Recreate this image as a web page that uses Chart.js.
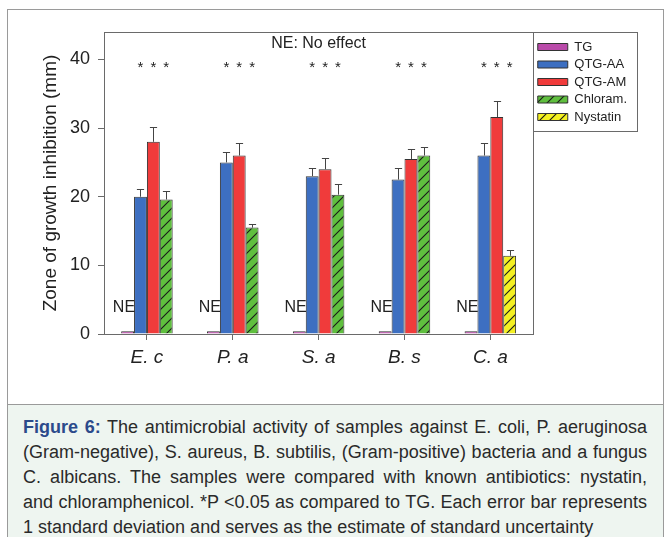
<!DOCTYPE html>
<html>
<head>
<meta charset="utf-8">
<script src="https://cdn.jsdelivr.net/npm/chart.js@4/dist/chart.umd.min.js"></script>
<style>
  body { margin: 0; width: 667px; height: 537px; overflow: hidden; background: #fff; font-family: Arial, "Liberation Sans", sans-serif; }
  .frame { position: absolute; left: 7px; top: 9px; width: 657px; height: 540px; border: 1px solid #9a9a9a; box-sizing: border-box; }
  .caption { position: absolute; left: 8px; top: 404px; width: 655px; height: 140px; background: #eef5f0; border-top: 1px solid #9a9a9a; box-sizing: border-box; padding: 10px 16px 0 15px; font-size: 18px; line-height: 25px; color: #2a2a2a; }
  .caption div { white-space: nowrap; text-align: justify; text-align-last: justify; }
  .caption div.last { text-align-last: left; }
  .caption b { color: #2b4a8b; }
  #chart { position: absolute; left: 0; top: 0; }
</style>
</head>
<body>
<div class="frame"></div>
<div class="caption">
  <div><b>Figure 6:</b> The antimicrobial activity of samples against E. coli, P. aeruginosa</div>
  <div>(Gram-negative), S. aureus, B. subtilis, (Gram-positive) bacteria and a fungus</div>
  <div>C. albicans. The samples were compared with known antibiotics: nystatin,</div>
  <div>and chloramphenicol. *P &lt;0.05 as compared to TG. Each error bar represents</div>
  <div class="last">1 standard deviation and serves as the estimate of standard uncertainty</div>
</div>
<canvas id="chart" width="667" height="400"></canvas>
<script>
// Categories and values
const categories = ['E. c', 'P. a', 'S. a', 'B. s', 'C. a']
const tgValues = [0.4, 0.4, 0.4, 0.4, 0.4]
const aaValues = [20, 25, 23, 22.5, 26]
const aaErrors = [1.1, 1.5, 1.2, 1.7, 1.9]
const amValues = [28, 26, 24, 25.5, 31.6]
const amErrors = [2.1, 1.9, 1.6, 1.5, 2.3]
const chloramValues = [19.6, 15.5, 20.3, 26.0, null]
const chloramErrors = [1.2, 0.5, 1.6, 1.2, null]
const nystatinValues = [null, null, null, null, 11.4]
const nystatinErrors = [null, null, null, null, 0.9]
const yTicks = [0, 10, 20, 30, 40]
const yMax = 44
// where the star and "NE" annotations sit, in axis units
const starLevel = 39.2
const neLevel = 3.9

Chart.defaults.font.family = 'Arial, "Liberation Sans", sans-serif'
Chart.defaults.color = '#222'

// hatched fill for the antibiotic bars
function hatch(color) {
  let c = document.createElement('canvas')
  c.width = 10
  c.height = 10
  let g = c.getContext('2d')
  g.fillStyle = color
  g.fillRect(0, 0, 10, 10)
  g.strokeStyle = '#1a1a1a'
  g.lineWidth = 1.1
  g.beginPath()
  g.moveTo(0, 10); g.lineTo(10, 0)
  g.moveTo(-5, 5); g.lineTo(5, -5)
  g.moveTo(5, 15); g.lineTo(15, 5)
  g.stroke()
  return g.createPattern(c, 'repeat')
}

// error bars, stars, NE labels and the boxes round plot and legend
const decor = {
  id: 'decor',
  afterDatasetsDraw(chart) {
    let ctx = chart.ctx
    let y = chart.scales.y
    ctx.save()
    ctx.strokeStyle = '#444'
    ctx.lineWidth = 1
    chart.data.datasets.forEach((ds, d) => {
      if (!ds.errors) return
      let meta = chart.getDatasetMeta(d)
      ds.data.forEach((v, i) => {
        if (v === null || ds.errors[i] === null) return
        let el = meta.data[i]
        let x = Math.round(el.x) + 0.5
        let top = Math.round(y.getPixelForValue(v + ds.errors[i])) + 0.5
        let cap = el.width * 0.28
        ctx.beginPath()
        ctx.moveTo(x, el.y)
        ctx.lineTo(x, top)
        ctx.moveTo(x - cap, top)
        ctx.lineTo(x + cap, top)
        ctx.stroke()
      })
    })

    // stars over the three non-TG bars of every group
    ctx.fillStyle = '#222'
    ctx.font = '15px Arial'
    ctx.textAlign = 'center'
    ctx.textBaseline = 'middle'
    categories.forEach((c, i) => {
      chart.data.datasets.forEach((ds, d) => {
        if (d === 0 || ds.data[i] === null) return
        let el = chart.getDatasetMeta(d).data[i]
        ctx.fillText('*', el.x, y.getPixelForValue(starLevel) + 3)
      })
    })

    // NE next to the TG bars
    ctx.font = '16px Arial'
    ctx.textAlign = 'right'
    let tgMeta = chart.getDatasetMeta(0)
    tgMeta.data.forEach(el => {
      ctx.fillText('NE', el.x + el.width / 2 + 1, y.getPixelForValue(neLevel))
    })

    // note at top of plot
    let area = chart.chartArea
    ctx.textAlign = 'center'
    ctx.font = '16px Arial'
    ctx.fillText('NE: No effect', (area.left + area.right) / 2, area.top + 12)
    ctx.restore()
  },
  afterDraw(chart) {
    let ctx = chart.ctx
    let a = chart.chartArea
    ctx.save()
    ctx.strokeStyle = '#6a6a6a'
    ctx.lineWidth = 1
    ctx.strokeRect(Math.round(a.left) + 0.5, Math.round(a.top) + 0.5, Math.round(a.right - a.left), Math.round(a.bottom - a.top))
    let lg = chart.legend
    let hb = lg.legendHitBoxes
    let last = hb[hb.length - 1]
    let bottom = last.top + last.height + 7
    ctx.strokeRect(Math.round(lg.left) + 0.5, Math.round(lg.top) + 0.5, Math.round(lg.width), Math.round(bottom - lg.top))
    ctx.restore()
  }
}

new Chart(document.getElementById('chart'), {
  type: 'bar',
  data: {
    labels: categories,
    datasets: [
      { label: 'TG', data: tgValues, backgroundColor: '#b94aa9' },
      { label: 'QTG-AA', data: aaValues, errors: aaErrors, backgroundColor: '#3d6fc1' },
      { label: 'QTG-AM', data: amValues, errors: amErrors, backgroundColor: '#f03b3b' },
      { label: 'Chloram.', data: chloramValues, errors: chloramErrors, backgroundColor: hatch('#5fbf3e') },
      { label: 'Nystatin', data: nystatinValues, errors: nystatinErrors, backgroundColor: hatch('#f4f021') }
    ]
  },
  options: {
    responsive: false,
    animation: false,
    skipNull: true,
    categoryPercentage: 0.6,
    barPercentage: 1.0,
    borderColor: '#333',
    borderWidth: 1,
    layout: { padding: { left: 24, top: 32, right: 30, bottom: 26 } },
    plugins: {
      tooltip: { enabled: false },
      legend: {
        position: 'right',
        align: 'start',
        title: { display: true, text: ' ', font: { size: 1, lineHeight: 1 }, padding: { top: 3, bottom: 0 } },
        labels: { boxWidth: 30, boxHeight: 7, padding: 4.5, font: { size: 13 }, color: '#222' }
      }
    },
    scales: {
      x: {
        border: { display: false },
        grid: { drawOnChartArea: false, drawTicks: true, tickLength: 6, offset: false, color: '#6a6a6a' },
        ticks: { font: { size: 19, style: 'italic' }, color: '#222', padding: 6 },
        afterFit: s => { s.height = 40 }
      },
      y: {
        min: 0,
        max: yMax,
        border: { display: false },
        grid: { drawOnChartArea: false, drawTicks: true, tickLength: 6, color: '#6a6a6a' },
        ticks: { font: { size: 18 }, color: '#222', padding: 8, includeBounds: false },
        afterBuildTicks: s => { s.ticks = yTicks.map(v => ({ value: v })) },
        title: { display: true, text: 'Zone of growth inhibition (mm)', font: { size: 19 }, color: '#222', padding: { top: 15, bottom: 0 } },
        afterFit: s => { s.width = 80 }
      }
    }
  },
  plugins: [decor]
})
</script>
</body>
</html>
